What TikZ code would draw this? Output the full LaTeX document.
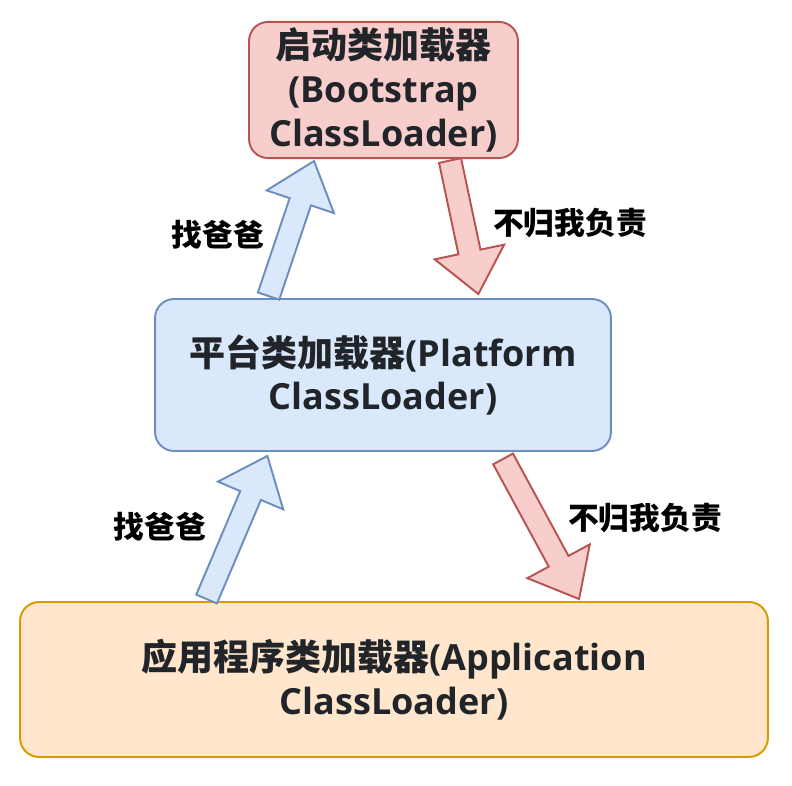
\documentclass[tikz,border=0pt]{standalone}
\usepackage{fontspec}
\setmainfont{Open Sans}
\newfontfamily\cjk{Noto Sans CJK SC}
\usetikzlibrary{calc}
\definecolor{redfill}{HTML}{F8CECC}
\definecolor{redline}{HTML}{B85450}
\definecolor{bluefill}{HTML}{DAE8FC}
\definecolor{blueline}{HTML}{6C8EBF}
\definecolor{orangefill}{HTML}{FFE6CC}
\definecolor{orangeline}{HTML}{D79B00}
\definecolor{boxtext}{HTML}{212529}
\tikzset{
  loader/.style={draw, rounded corners=0.38cm, line width=1.1pt, align=center, text=boxtext,
    font=\fontsize{20.5}{25}\selectfont\bfseries},
  tag/.style={font=\fontsize{17.5}{20}\selectfont\cjk\bfseries},
  fatarrow/.style={line width=1.1pt, line join=miter, to path={
    ($(\tikztostart)!0.225cm!90:(\tikztotarget)$)
    -- ($(\tikztotarget)!0.86cm!(\tikztostart)!0.225cm!90:(\tikztotarget)$)
    -- ($(\tikztotarget)!0.86cm!(\tikztostart)!0.71cm!90:(\tikztotarget)$)
    -- (\tikztotarget)
    -- ($(\tikztotarget)!0.86cm!(\tikztostart)!0.71cm!-90:(\tikztotarget)$)
    -- ($(\tikztotarget)!0.86cm!(\tikztostart)!0.225cm!-90:(\tikztotarget)$)
    -- ($(\tikztostart)!0.225cm!-90:(\tikztotarget)$) -- cycle}},
  findup/.style={fatarrow, draw=blueline, fill=bluefill},
  passdown/.style={fatarrow, draw=redline, fill=redfill}
}
\begin{document}
\begin{tikzpicture}[x=0.02cm, y=-0.02cm]
  \useasboundingbox (0,0) rectangle (792,786);
  \node[loader, fill=redfill, draw=redline, minimum width=5.38cm, minimum height=2.68cm] (boot) at (383.5,90)
    {{\cjk 启动类加载器}\\(Bootstrap\\ClassLoader)};
  \node[loader, fill=bluefill, draw=blueline, minimum width=9.12cm, minimum height=3.04cm] (plat) at (383,375)
    {{\cjk 平台类加载器}(Platform\\ClassLoader)};
  \node[loader, fill=orangefill, draw=orangeline, minimum width=14.96cm, minimum height=3.1cm] (app) at (394,679.5)
    {{\cjk 应用程序类加载器}(Application\\ClassLoader)};

  \coordinate (up1s) at ($(plat.north west)+(114.5,-2)$);
  \coordinate (up1e) at ($(boot.south west)+(66,2)$);
  \coordinate (down1s) at ($(boot.south west)+(202,1.5)$);
  \coordinate (down1e) at ($(plat.north west)+(324.3,-4)$);
  \coordinate (up2s) at ($(app.north west)+(187.5,-2)$);
  \coordinate (up2e) at ($(plat.south west)+(113.3,4)$);
  \coordinate (down2s) at ($(plat.south west)+(349,7)$);
  \coordinate (down2e) at ($(app.north west)+(560,-2)$);

  \draw[findup] (up1s) to (up1e);
  \draw[passdown] (down1s) to (down1e);
  \draw[findup] (up2s) to (up2e);
  \draw[passdown] (down2s) to (down2e);

  \node[tag] (find1) at (218,235) {找爸爸};
  \node[tag] (notme1) at (570,223) {不归我负责};
  \node[tag] (find2) at (160,527) {找爸爸};
  \node[tag] (notme2) at (645,518) {不归我负责};
\end{tikzpicture}
\end{document}
